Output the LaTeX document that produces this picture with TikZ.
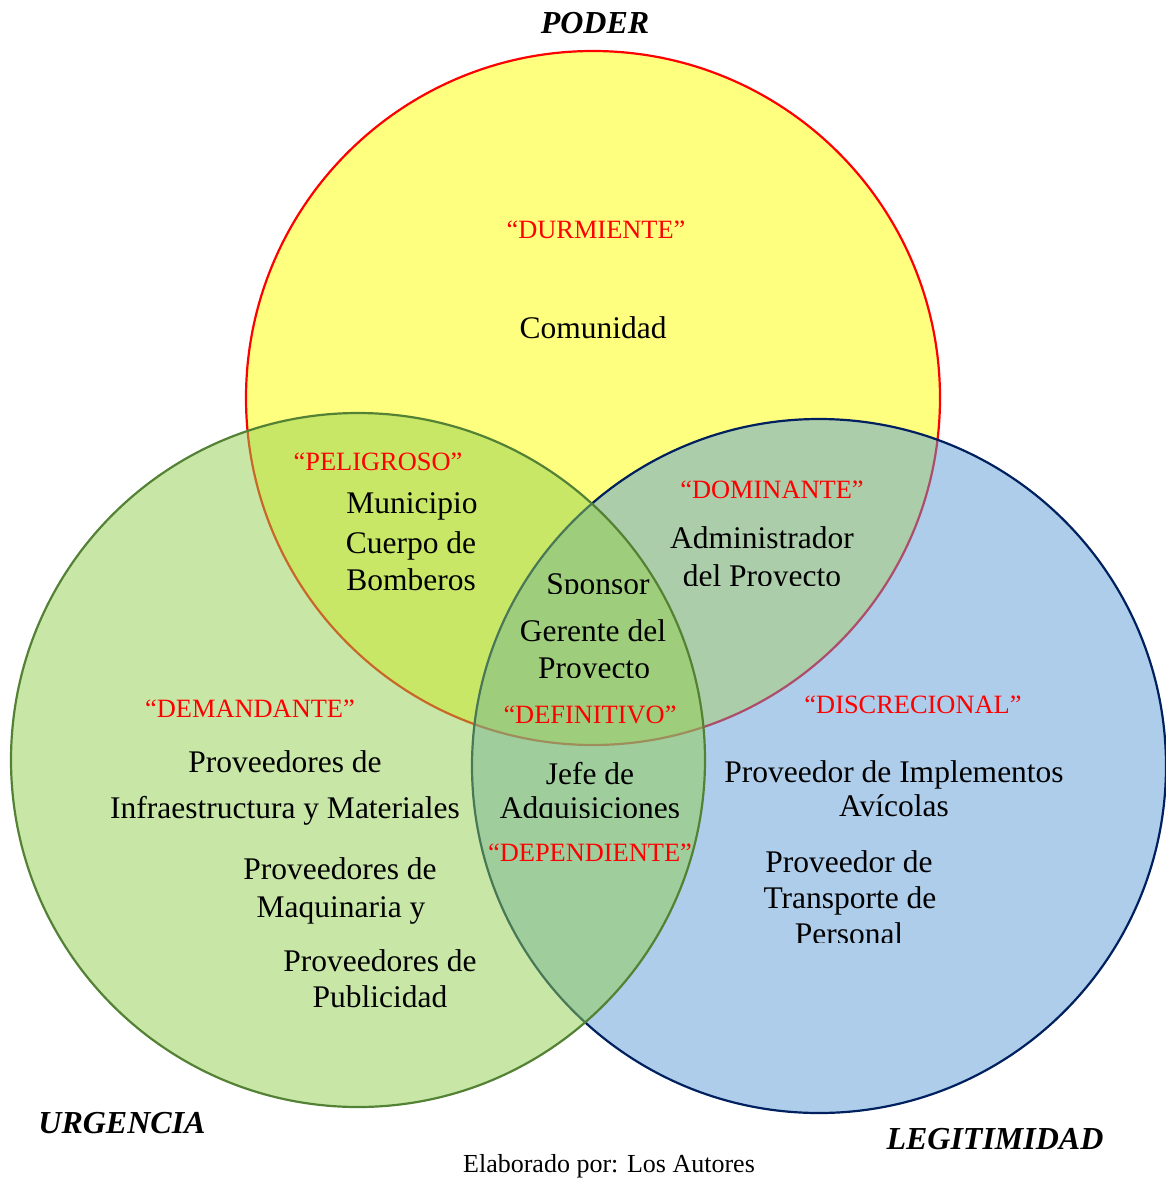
\documentclass[tikz,border=0pt]{standalone}
\usepackage{fontspec}
\setmainfont{Liberation Serif}
\definecolor{cyel}{HTML}{FFFF00}
\definecolor{cgrn}{HTML}{92D050}
\definecolor{cblu}{HTML}{5B9BD5}
\definecolor{sgrn}{HTML}{548235}
\definecolor{sblu}{HTML}{002060}
\begin{document}
\begin{tikzpicture}[x=1pt,y=-1pt,
  txt/.style={anchor=base,inner sep=0pt,font=\fontsize{31.5}{36}\selectfont},
  lab/.style={anchor=base,inner sep=0pt,text=red,font=\fontsize{26.4}{30}\selectfont},
  ttl/.style={anchor=base,inner sep=0pt,font=\fontsize{32}{36}\selectfont\bfseries\itshape},
  foot/.style={anchor=base,inner sep=0pt,font=\fontsize{26}{30}\selectfont},
  circ/.style={line width=2.2pt,fill opacity=0.5}]
\useasboundingbox (0,0) rectangle (1165,1178);
% circles
\draw[circ,draw=red,fill=cyel] (593,398) circle[radius=347pt];
\draw[circ,draw=sblu,fill=cblu] (819,766) circle[radius=347pt];
\draw[circ,draw=sgrn,fill=cgrn] (358,760) circle[radius=347pt];
% titles
\node[ttl] (poder) at (595,33) {PODER};
\node[ttl] (urg) at (122,1133) {URGENCIA};
\node[ttl] (leg) at (995,1149) {LEGITIMIDAD};
\node[foot] (foot) at (609,1172) {Elaborado por: Los Autores};
% durmiente
\node[lab] (durm) at (596,238) {“DURMIENTE”};
\node[txt] (comu) at (593,338) {Comunidad};
% peligroso
\node[lab] (peli) at (378,470) {“PELIGROSO”};
\node[txt] (muni) at (412,513) {Municipio};
\node[txt] (cuer) at (411,553) {Cuerpo de};
\node[txt] (bomb) at (411,590) {Bomberos};
% dominante
\node[lab] (domi) at (772,498) {“DOMINANTE”};
\node[txt] (admi) at (762,548) {Administrador};
\begin{scope}
\clip (650,555) rectangle (880,585);
\node[txt] (delp) at (762,586) {del Proyecto};
\end{scope}
% definitivo
\begin{scope}
\clip (500,560) rectangle (700,593);
\node[txt] (spon) at (598,594) {Sponsor};
\end{scope}
\node[txt] (gere) at (593,641) {Gerente del};
\begin{scope}
\clip (500,645) rectangle (700,677);
\node[txt] (proy) at (594,678) {Proyecto};
\end{scope}
\node[lab] (defi) at (590,723) {“DEFINITIVO”};
% dependiente
\node[txt] (jefe) at (590,784) {Jefe de};
\begin{scope}
\clip (480,788) rectangle (700,817);
\node[txt] (adqu) at (590,818) {Adquisiciones};
\end{scope}
\node[lab] (depe) at (590,861) {“DEPENDIENTE”};
% demandante
\node[lab] (dema) at (250,717) {“DEMANDANTE”};
\node[txt] (pro1) at (285,772) {Proveedores de};
\node[txt] (infr) at (285,818) {Infraestructura y Materiales};
\node[txt] (pro2) at (340,879) {Proveedores de};
\node[txt] (maqu) at (341,917) {Maquinaria y};
\node[txt] (pro3) at (380,971) {Proveedores de};
\node[txt] (publ) at (380,1007) {Publicidad};
% discrecional
\node[lab] (disc) at (913,713) {“DISCRECIONAL”};
\node[txt] (impl) at (894,782) {Proveedor de Implementos};
\node[txt] (avic) at (894,816) {Avícolas};
\node[txt] (pro4) at (849,872) {Proveedor de};
\node[txt] (tran) at (850,908) {Transporte de};
\begin{scope}
\clip (760,912) rectangle (940,942);
\node[txt] (pers) at (849,944) {Personal};
\end{scope}
\end{tikzpicture}
\end{document}
